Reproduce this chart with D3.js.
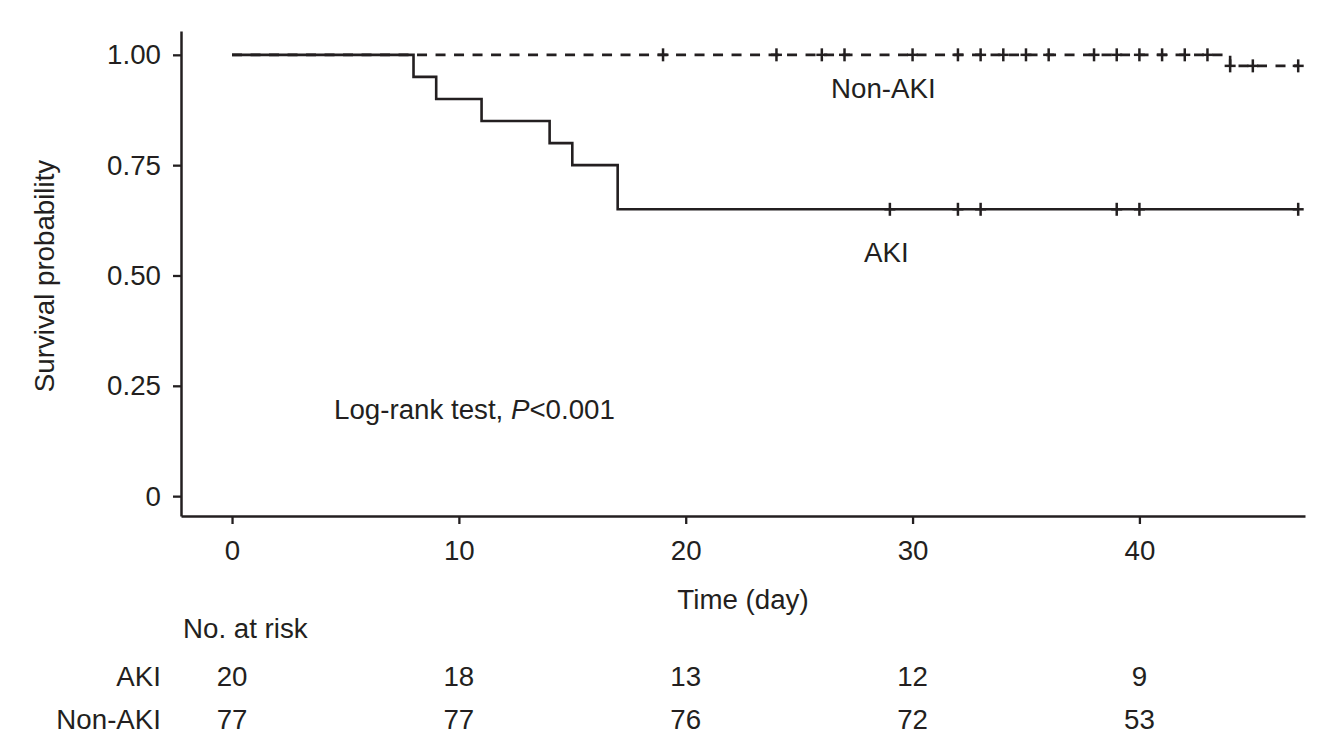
<!DOCTYPE html>
<html>
<head>
<meta charset="utf-8">
<script src="https://cdn.jsdelivr.net/npm/d3@7"></script>
<style>
  html, body { margin: 0; padding: 0; background: #fff; }
  svg { display: block; }
  text { font-family: "Liberation Sans", Arial, sans-serif; fill: #231f20; }
</style>
</head>
<body>
<svg id="chart" width="1335" height="754"></svg>
<script>
// ---- data ----
const xTicks = [0, 10, 20, 30, 40];
const yTicks = [0, 0.25, 0.5, 0.75, 1.0];
const yTickLabels = ["0", "0.25", "0.50", "0.75", "1.00"];

const akiEventTimes = [0, 8, 9, 11, 14, 15, 17];
const akiSurvival   = [1.00, 0.95, 0.90, 0.85, 0.80, 0.75, 0.65];
const akiCensorTimes = [29, 32, 33, 39, 40, 47];
const akiEndTime = 47;

const nonEventTimes = [0, 44];
const nonSurvival   = [1.00, 0.975];
const nonCensorTimes = [19, 24, 26, 27, 30, 32, 33, 34, 35, 36, 38, 39, 40, 41, 42, 43, 44, 45, 47];
const nonEndTime = 47;

const riskGroups = ["AKI", "Non-AKI"];
const riskTimes = [0, 10, 20, 30, 40];
const riskAKI = [20, 18, 13, 12, 9];
const riskNonAKI = [77, 77, 76, 72, 53];

// ---- layout ----
const svg = d3.select("#chart");
const x = d3.scaleLinear().domain([-2.25, 47.3]).range([181, 1305]);
const y = d3.scaleLinear().domain([-0.045, 1.054]).range([516, 31]);
const ink = "#231f20";
const FS = "27.7px";

function stepData(times, surv, end) {
  const pts = times.map((t, i) => [t, surv[i]]);
  pts.push([end, surv[surv.length - 1]]);
  return pts;
}
function survAt(times, surv, t) {
  let s = surv[0];
  for (let i = 0; i < times.length; i++) if (times[i] <= t) s = surv[i];
  return s;
}

const line = d3.line().x(d => x(d[0])).y(d => y(d[1])).curve(d3.curveStepAfter);

// axes
const xAxis = svg.append("g").attr("transform", "translate(0,516)")
  .call(d3.axisBottom(x).tickValues(xTicks).tickSize(8).tickPadding(10).tickSizeOuter(0));
const yAxis = svg.append("g").attr("transform", "translate(181,0)")
  .call(d3.axisLeft(y).tickValues(yTicks).tickFormat((d, i) => yTickLabels[i]).tickSize(8).tickPadding(12).tickSizeOuter(0));
[xAxis, yAxis].forEach(g => {
  g.select(".domain").attr("stroke", ink).attr("stroke-width", 2.5);
  g.selectAll(".tick line").attr("stroke", ink).attr("stroke-width", 2.3);
  g.selectAll(".tick text").style("font-size", FS).attr("fill", ink)
    .style("font-family", '"Liberation Sans", Arial, sans-serif');
});
xAxis.selectAll(".tick text").attr("dy", "0.95em");

// Non-AKI curve (dashed)
svg.append("path")
  .datum(stepData(nonEventTimes, nonSurvival, nonEndTime))
  .attr("d", line).attr("fill", "none").attr("stroke", ink)
  .attr("stroke-width", 2.6).attr("stroke-dasharray", "10,8.5");

// AKI curve (solid)
svg.append("path")
  .datum(stepData(akiEventTimes, akiSurvival, akiEndTime))
  .attr("d", line).attr("fill", "none").attr("stroke", ink)
  .attr("stroke-width", 2.6);

// censor marks
function censors(times, evT, surv) {
  const g = svg.append("g").attr("stroke", ink).attr("stroke-width", 2.5);
  times.forEach(t => {
    const cx = x(t), cy = y(survAt(evT, surv, t));
    g.append("line").attr("x1", cx - 5.5).attr("x2", cx + 5.5).attr("y1", cy).attr("y2", cy);
    g.append("line").attr("x1", cx).attr("x2", cx).attr("y1", cy - 6.5).attr("y2", cy + 6.5);
  });
}
censors(nonCensorTimes, nonEventTimes, nonSurvival);
censors(akiCensorTimes, akiEventTimes, akiSurvival);

// labels
svg.append("text").attr("x", 831).attr("y", 98).style("font-size", FS).text("Non-AKI");
svg.append("text").attr("x", 864).attr("y", 262).style("font-size", FS).text("AKI");
const lr = svg.append("text").attr("x", 334).attr("y", 419).style("font-size", FS);
lr.append("tspan").text("Log-rank test, ");
lr.append("tspan").style("font-style", "italic").text("P");
lr.append("tspan").text("<0.001");

svg.append("text").attr("text-anchor", "middle")
  .attr("transform", "translate(54,276) rotate(-90)")
  .style("font-size", FS).text("Survival probability");
svg.append("text").attr("text-anchor", "middle").attr("x", 743).attr("y", 609)
  .style("font-size", FS).text("Time (day)");

// risk table
svg.append("text").attr("x", 183).attr("y", 638).style("font-size", FS).text("No. at risk");
const rowY = [686, 729];
const rowVals = [riskAKI, riskNonAKI];
riskGroups.forEach((gname, r) => {
  svg.append("text").attr("x", 161).attr("y", rowY[r]).attr("text-anchor", "end")
    .style("font-size", FS).text(gname);
  svg.selectAll(null).data(riskTimes).enter().append("text")
    .attr("x", d => x(d)).attr("y", rowY[r]).attr("text-anchor", "middle")
    .style("font-size", FS).text((d, i) => rowVals[r][i]);
});
</script>
</body>
</html>
